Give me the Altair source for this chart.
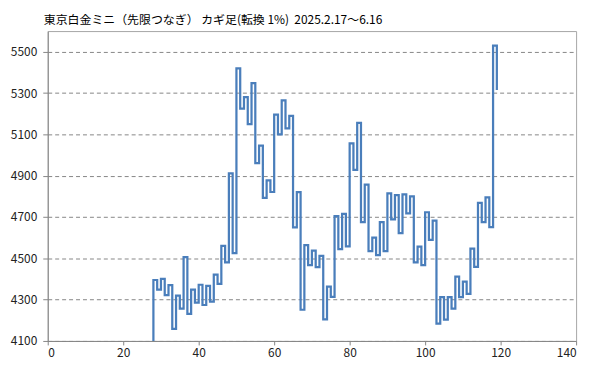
import altair as alt
import pandas as pd

title_text = "東京白金ミニ（先限つなぎ） カギ足(転換 1%)\u00a0\u00a02025.2.17～6.16"

start_x = 28
start_value = 4100
# turning values, one per reversal, x = 28 .. 119
kagi_values = [
    4395, 4348, 4401, 4322, 4370, 4159, 4319, 4257, 4506, 4231,
    4348, 4285, 4372, 4274, 4367, 4290, 4421, 4376, 4560, 4480,
    4911, 4525, 5419, 5225, 5280, 5149, 5348, 4961, 5045, 4793,
    4877, 4821, 5195, 5100, 5265, 5129, 5189, 4650, 4820, 4251,
    4564, 4467, 4537, 4457, 4512, 4204, 4363, 4313, 4704, 4544,
    4715, 4558, 5056, 4928, 5156, 4675, 4857, 4535, 4600, 4515,
    4675, 4535, 4814, 4688, 4806, 4622, 4809, 4718, 4800, 4480,
    4557, 4467, 4723, 4589, 4683, 4184, 4312, 4203, 4312, 4256,
    4411, 4312, 4387, 4328, 4547, 4459, 4768, 4675, 4795, 4651,
    5530, 5315,
]

y_ticks = [4100, 4300, 4500, 4700, 4900, 5100, 5300, 5500]
x_ticks = [0, 20, 40, 60, 80, 100, 120, 140]

rows = []
prev = start_value
order = 0
for i, v in enumerate(kagi_values):
    x = start_x + i
    rows.append({"x": x, "y": prev, "o": order})
    order += 1
    rows.append({"x": x, "y": v, "o": order})
    order += 1
    prev = v
df = pd.DataFrame(rows)

font = "Noto Sans CJK JP"

chart = (
    alt.Chart(df)
    .mark_line(color="#4a7ebb", strokeWidth=2.25, strokeJoin="miter", clip=True)
    .encode(
        x=alt.X(
            "x:Q",
            scale=alt.Scale(domain=[0, 140], nice=False, zero=False),
            axis=alt.Axis(
                values=x_ticks,
                format="d",
                title=None,
                grid=False,
                domainColor="#868686",
                tickColor="#868686",
                tickSize=4,
                labelPadding=3,
                labelFont=font,
                labelFontSize=12,
                labelColor="#222222",
            ),
        ),
        y=alt.Y(
            "y:Q",
            scale=alt.Scale(domain=[4100, 5600], nice=False, zero=False),
            axis=alt.Axis(
                values=y_ticks,
                format="d",
                title=None,
                grid=True,
                gridColor="#868686",
                gridDash=[4, 3],
                gridWidth=1,
                domainColor="#868686",
                tickColor="#868686",
                tickSize=5,
                labelPadding=6,
                labelFont=font,
                labelFontSize=12,
                labelColor="#222222",
            ),
        ),
        order="o:Q",
    )
    .properties(
        width=532,
        height=312,
        autosize=alt.AutoSizeParams(type="none"),
        padding={"left": 40, "top": 22, "right": 15, "bottom": 25},
        title=alt.TitleParams(
            title_text,
            anchor="start",
            frame="group",
            dx=-4,
            offset=4,
            font=font,
            fontSize=12,
            fontWeight="normal",
            color="#000000",
        ),
    )
    .configure_view(stroke="#a6a6a6", strokeWidth=1)
)

chart.save("out.html", embed_options={"renderer": "svg", "actions": False})
